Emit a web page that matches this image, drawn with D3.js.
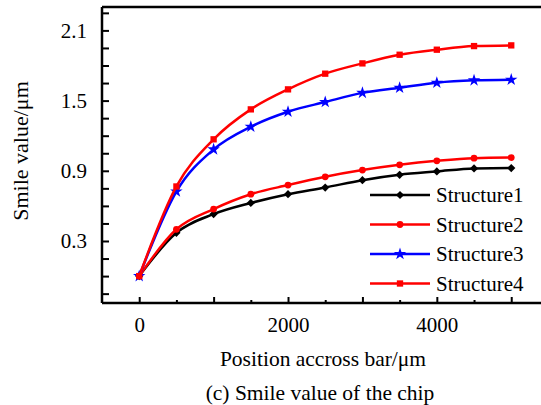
<!DOCTYPE html>
<html>
<head>
<meta charset="utf-8">
<script src="https://cdn.jsdelivr.net/npm/d3@7"></script>
<style>
  body { margin: 0; background: #fff; }
  svg { display: block; }
  svg text { font-family: "Liberation Serif", "Times New Roman", Times, "DejaVu Serif", serif; }
</style>
</head>
<body>
<svg id="chart" width="541" height="405"></svg>
<script>
// positions along the bar, um
const positions = [0, 500, 1000, 1500, 2000, 2500, 3000, 3500, 4000, 4500, 5000];
const structure1 = [0, 0.37, 0.53, 0.625, 0.70, 0.757, 0.82, 0.866, 0.894, 0.92, 0.923];
const structure2 = [0, 0.40, 0.573, 0.70, 0.778, 0.849, 0.906, 0.951, 0.985, 1.008, 1.013];
const structure3 = [0, 0.723, 1.083, 1.277, 1.405, 1.488, 1.566, 1.61, 1.653, 1.673, 1.679];
const structure4 = [0, 0.766, 1.169, 1.425, 1.596, 1.73, 1.818, 1.892, 1.935, 1.966, 1.972];
const seriesNames = [`Structure1`, `Structure2`, `Structure3`, `Structure4`];
const xTickLabels = [0, 2000, 4000];
const yTickLabels = [0.3, 0.9, 1.5, 2.1];

const svg = d3.select(`#chart`);
const plotLeft = 102, plotRight = 541, plotTop = 7, plotBottom = 303;

const x = d3.scaleLinear().domain([-500, 5400]).range([plotLeft, plotRight]);
const y = d3.scaleLinear().domain([-0.23, 2.3]).range([plotBottom, plotTop]);

const styles = [
    { color: `#000000`, symbol: d3.symbolSquare, size: 34, rotate: 45 },
    { color: `#ff0000`, symbol: d3.symbolCircle, size: 36, rotate: 0 },
    { color: `#0000ff`, symbol: d3.symbolStar, size: 48, rotate: 0 },
    { color: `#ff0000`, symbol: d3.symbolSquare, size: 40, rotate: 0 }
];
const allSeries = [structure1, structure2, structure3, structure4];

// frame top line
svg.append(`line`)
    .attr(`x1`, plotLeft).attr(`x2`, plotRight)
    .attr(`y1`, plotTop).attr(`y2`, plotTop)
    .attr(`stroke`, `#000`).attr(`stroke-width`, 2.5);

// y axis: minor ticks every 0.15, labels on 0.3/0.9/1.5/2.1
const yTicks = d3.range(-0.15, 2.31, 0.15).map(v => +v.toFixed(2));
const yAxis = d3.axisLeft(y)
    .tickValues(yTicks)
    .tickSize(-7)
    .tickPadding(15)
    .tickFormat(d => yTickLabels.some(t => Math.abs(t - d) < 1e-6) ? d3.format(`.1f`)(d) : ``);
const yg = svg.append(`g`).attr(`transform`, `translate(${plotLeft},0)`).call(yAxis);

// x axis: major every 1000, minor every 500
const xMajor = d3.range(0, 5001, 1000);
const xMinor = d3.range(500, 5001, 1000);
const xAxis = d3.axisBottom(x)
    .tickValues(xMajor)
    .tickSize(-6)
    .tickPadding(14)
    .tickFormat(d => xTickLabels.includes(d) ? d : ``);
const xg = svg.append(`g`).attr(`transform`, `translate(0,${plotBottom})`).call(xAxis);
const xgMinor = svg.append(`g`).attr(`transform`, `translate(0,${plotBottom})`)
    .call(d3.axisBottom(x).tickValues(xMinor).tickSize(-3).tickFormat(``));
xgMinor.select(`.domain`).remove();

[yg, xg, xgMinor].forEach(g => {
    g.attr(`font-family`, null);
    g.selectAll(`.tick line`).attr(`stroke`, `#000`).attr(`stroke-width`, 2);
    g.selectAll(`.tick text`).attr(`font-size`, 21).attr(`fill`, `#000`);
});
yg.select(`.domain`).attr(`d`, `M0,${plotBottom}V${plotTop}`).attr(`stroke-width`, 2.5);
xg.select(`.domain`).attr(`d`, `M${plotLeft},0H${plotRight}`).attr(`stroke-width`, 2.5);

// curves
const line = d3.line()
    .x((d, i) => x(positions[i]))
    .y(d => y(d))
    .curve(d3.curveMonotoneX);

allSeries.forEach((vals, s) => {
    const st = styles[s];
    const g = svg.append(`g`);
    g.append(`path`)
        .datum(vals)
        .attr(`d`, line)
        .attr(`fill`, `none`)
        .attr(`stroke`, st.color)
        .attr(`stroke-width`, 2.5);
    g.selectAll(`path.mark`)
        .data(vals)
        .enter().append(`path`)
        .attr(`class`, `mark`)
        .attr(`d`, d3.symbol().type(st.symbol).size(st.size))
        .attr(`transform`, (d, i) => `translate(${x(positions[i])},${y(d)}) rotate(${st.rotate})`)
        .attr(`fill`, st.color);
});

// legend
const legend = svg.append(`g`);
seriesNames.forEach((name, s) => {
    const st = styles[s];
    const ly = 195 + s * 29.5;
    legend.append(`line`)
        .attr(`x1`, 370).attr(`x2`, 430)
        .attr(`y1`, ly).attr(`y2`, ly)
        .attr(`stroke`, st.color).attr(`stroke-width`, 2.5);
    legend.append(`path`)
        .attr(`d`, d3.symbol().type(st.symbol).size(st.size))
        .attr(`transform`, `translate(400,${ly}) rotate(${st.rotate})`)
        .attr(`fill`, st.color);
    legend.append(`text`)
        .attr(`x`, 436).attr(`y`, ly + 7)
        .attr(`font-size`, 21)
        .text(name);
});

// titles
svg.append(`text`)
    .attr(`transform`, `translate(28,151) rotate(-90)`)
    .attr(`text-anchor`, `middle`)
    .attr(`font-size`, 22)
    .text(`Smile value/μm`);

svg.append(`text`)
    .attr(`x`, 323).attr(`y`, 366)
    .attr(`text-anchor`, `middle`)
    .attr(`font-size`, 21.5)
    .text(`Position accross bar/μm`);

svg.append(`text`)
    .attr(`x`, 320).attr(`y`, 400)
    .attr(`text-anchor`, `middle`)
    .attr(`font-size`, 21.5)
    .text(`(c) Smile value of the chip`);
</script>
</body>
</html>
